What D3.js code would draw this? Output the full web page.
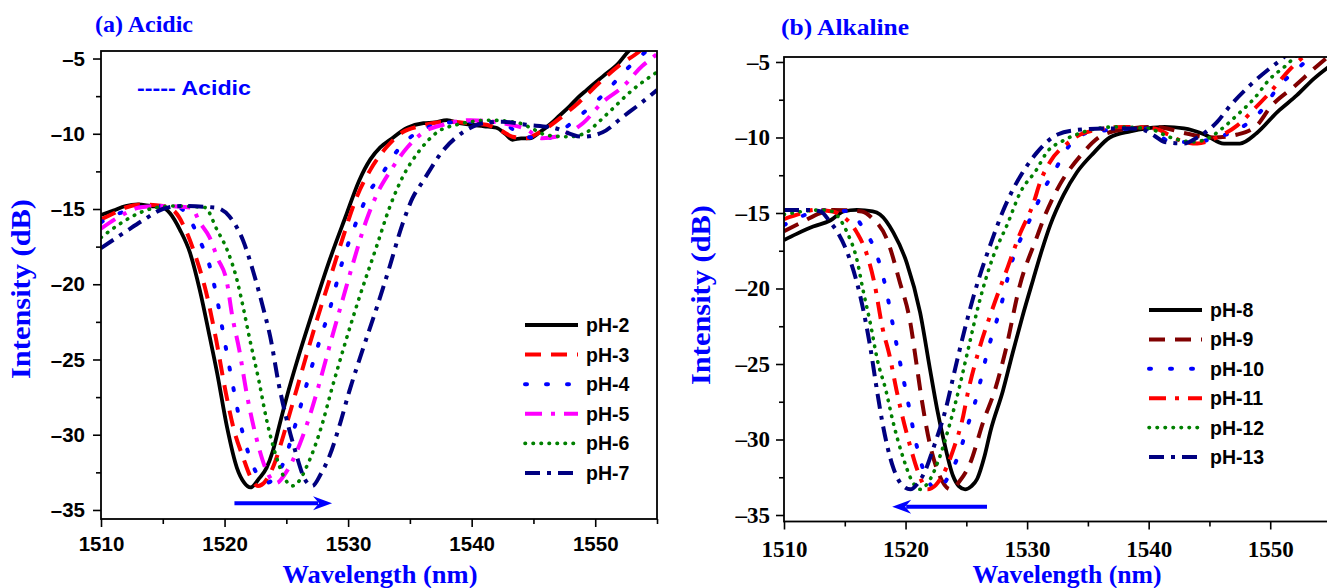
<!DOCTYPE html>
<html lang="en">
<head>
<meta charset="utf-8">
<title>pH response - acidic / alkaline</title>
<script src="https://d3js.org/d3.v7.min.js"></script>
<style>
  body { margin: 0; background: #fff; }
  .tick line { stroke: #000; stroke-width: 1.6px; }
</style>
</head>
<body>
<svg id="chart" width="1327" height="588"></svg>
<script>
// ---------- data (wavelength nm, intensity dB) ----------
const wlDomain = [1510, 1555];
const wlTicks = [1510, 1520, 1530, 1540, 1550];
const wlMinor = [1515, 1525, 1535, 1545, 1555];
const intTicks = [-35, -30, -25, -20, -15, -10, -5];
const intMinor = [-32.5, -27.5, -22.5, -17.5, -12.5, -7.5];

// (a) acidic
const pH2 = [[1510,-15.4],[1511,-15.1],[1512,-14.8],[1513,-14.7],[1514,-14.8],[1515,-14.9],[1515.6,-15.3],[1516.4,-16.4],[1517.2,-17.9],[1518,-20.4],[1518.8,-23.5],[1519.4,-25.9],[1520.2,-29.5],[1521,-32.2],[1521.6,-33.2],[1522.1,-33.5],[1522.8,-32.9],[1523.4,-32.2],[1523.9,-31.1],[1524.4,-29.5],[1525.2,-27.0],[1525.8,-25.3],[1527.1,-21.9],[1528.5,-18.4],[1529.8,-15.5],[1530.9,-13.1],[1531.8,-11.7],[1532.6,-10.9],[1533.4,-10.4],[1534.8,-9.6],[1536.1,-9.3],[1537,-9.25],[1538,-9.1],[1539,-9.3],[1539.9,-9.4],[1541,-9.5],[1542,-9.6],[1542.7,-10.0],[1543.3,-10.4],[1544,-10.3],[1544.7,-10.3],[1545.5,-9.9],[1546.3,-9.4],[1547.1,-8.8],[1547.9,-8.2],[1548.6,-7.6],[1549.3,-7.1],[1550.6,-6.2],[1551.9,-5.3],[1552.6,-4.6],[1553.5,-3.9]];
const pH3 = [[1510,-15.7],[1511,-15.3],[1512,-14.9],[1513.4,-14.7],[1515,-14.8],[1516,-15.2],[1516.8,-16.3],[1517.6,-18.0],[1518.5,-20.5],[1519.3,-23.6],[1520.1,-27.2],[1520.8,-29.8],[1521.5,-31.5],[1522.1,-32.8],[1522.7,-33.4],[1523.3,-33.1],[1524,-32.0],[1524.6,-30.5],[1525.2,-28.8],[1525.9,-26.8],[1526.6,-24.8],[1527.5,-22.3],[1528.5,-19.7],[1529.5,-17.1],[1530.6,-14.4],[1531.8,-12.4],[1533.1,-10.9],[1534.4,-9.9],[1535.8,-9.5],[1538,-9.2],[1539.8,-9.3],[1541.2,-9.4],[1542.4,-9.8],[1543.3,-10.2],[1544.4,-10.3],[1545.3,-10.0],[1546.1,-9.6],[1547.4,-8.8],[1548.7,-7.9],[1550.6,-6.4],[1552.2,-5.3],[1553.3,-4.7],[1554.3,-4.0]];
const pH4 = [[1510,-15.9],[1510.5,-15.6],[1511.8,-15.2],[1513,-14.9],[1514.5,-14.8],[1516.3,-14.9],[1517.2,-15.7],[1518,-17.1],[1518.8,-18.8],[1519.4,-21.0],[1519.9,-23.3],[1520.6,-26.4],[1521.3,-29.3],[1522,-31.4],[1522.7,-32.7],[1523.4,-33.2],[1524.1,-32.8],[1524.8,-31.8],[1525.6,-29.7],[1526.7,-26.5],[1527.6,-24.0],[1528.5,-21.7],[1529.5,-18.6],[1530.6,-16.0],[1531.7,-13.9],[1532.8,-12.6],[1534,-11.1],[1535.6,-9.9],[1537.2,-9.4],[1539.3,-9.2],[1541,-9.2],[1542.5,-9.3],[1543.5,-9.8],[1544.4,-10.2],[1546.1,-10.3],[1547.1,-9.9],[1547.9,-9.4],[1549.6,-8.2],[1550.9,-7.2],[1552.2,-6.0],[1553.6,-4.9],[1554.4,-4.3]];
const pH5 = [[1510,-16.3],[1511.5,-15.5],[1513.1,-14.9],[1514.5,-14.8],[1517.3,-14.9],[1518,-15.9],[1518.8,-16.9],[1519.4,-18.2],[1520.2,-19.9],[1520.6,-22.0],[1521.2,-24.4],[1521.8,-27.3],[1522.6,-30.3],[1523.4,-32.4],[1524.2,-33.2],[1524.9,-32.6],[1526.1,-30.6],[1527.1,-28.2],[1527.6,-26.8],[1528.6,-23.8],[1529.6,-20.9],[1530.4,-18.6],[1531.5,-15.7],[1532.4,-13.9],[1533.4,-12.5],[1534.8,-10.9],[1536.1,-9.9],[1537.7,-9.4],[1539.9,-9.1],[1542.5,-9.3],[1544.4,-9.7],[1545.7,-10.3],[1547.3,-10.1],[1549,-9.3],[1550.6,-7.9],[1552.2,-6.9],[1553.8,-5.5],[1554.7,-4.9],[1555,-4.7]];
const pH6 = [[1510,-16.9],[1511.5,-16.0],[1513,-15.3],[1514.5,-14.9],[1516,-14.8],[1518.4,-14.9],[1519.4,-16.4],[1520.2,-17.7],[1521,-19.7],[1521.5,-21.5],[1522,-23.5],[1522.8,-26.5],[1523.4,-29.0],[1524.2,-31.5],[1524.8,-32.8],[1525.5,-33.4],[1526.1,-33.0],[1526.6,-32.2],[1527.3,-30.8],[1527.9,-29.3],[1528.7,-26.9],[1529.8,-23.8],[1530.9,-20.9],[1532.3,-17.5],[1533.4,-14.8],[1534.4,-12.9],[1535.8,-11.1],[1537.2,-9.9],[1538.8,-9.4],[1541.5,-9.1],[1543.9,-9.3],[1545,-9.7],[1546.1,-10.1],[1547.9,-10.2],[1549.3,-9.9],[1550.3,-9.2],[1551.2,-8.5],[1553,-7.1],[1555,-5.9]];
const pH7 = [[1510,-17.6],[1512,-16.5],[1513.5,-15.7],[1515,-15.0],[1516.5,-14.8],[1519.2,-14.9],[1520.4,-15.5],[1521.5,-17.1],[1522.3,-19.1],[1523.1,-21.5],[1523.7,-23.5],[1524.4,-26.7],[1525,-28.9],[1525.8,-31.3],[1526.4,-32.8],[1527.1,-33.4],[1527.8,-32.6],[1528.5,-31.4],[1529.3,-29.4],[1530.1,-27.1],[1531.2,-24.3],[1532.3,-21.6],[1533.3,-19.0],[1534.4,-16.0],[1535.2,-14.3],[1536.1,-13.1],[1537.7,-11.1],[1539.3,-9.9],[1540.9,-9.3],[1542.5,-9.2],[1544.4,-9.4],[1546.6,-9.6],[1549,-10.2],[1550.6,-9.9],[1552.2,-8.9],[1553.8,-7.9],[1555,-7.1]];

// (b) alkaline
const pH8 = [[1510,-16.8],[1511,-16.4],[1512.4,-15.9],[1513.8,-15.5],[1514.9,-14.9],[1516,-14.8],[1517.3,-14.9],[1517.9,-15.1],[1519,-16.3],[1520.1,-18.3],[1521.2,-21.6],[1522,-25.3],[1522.6,-28.0],[1523.1,-29.9],[1523.9,-32.4],[1524.4,-33.1],[1524.9,-33.3],[1525.4,-33.1],[1525.9,-32.6],[1526.5,-31.1],[1527,-29.4],[1528,-26.8],[1528.8,-24.3],[1529.6,-21.9],[1530.5,-19.4],[1531.2,-17.5],[1531.9,-15.8],[1533,-13.8],[1534.1,-12.3],[1535.5,-11.0],[1536.8,-10.0],[1538.5,-9.6],[1539.9,-9.4],[1541.3,-9.3],[1542.9,-9.4],[1544.6,-9.8],[1546.2,-10.4],[1547.5,-10.4],[1548.9,-9.7],[1550.6,-8.3],[1552.2,-7.2],[1553.6,-6.1],[1555,-5.2]];
const pH9 = [[1510,-16.2],[1511.5,-15.6],[1513,-15.0],[1514,-14.8],[1516.4,-14.9],[1517.2,-15.3],[1518.5,-16.8],[1519.5,-19.5],[1520.4,-22.3],[1520.9,-25.0],[1521.3,-27.2],[1522,-30.3],[1522.8,-32.4],[1523.7,-33.3],[1524.5,-32.7],[1525.3,-31.6],[1526.4,-28.8],[1527.4,-26.6],[1528.2,-24.2],[1529.4,-19.8],[1530.8,-16.6],[1531.4,-15.3],[1532.5,-13.4],[1534.4,-11.2],[1536.3,-9.8],[1538.5,-9.4],[1540.1,-9.3],[1541.5,-9.4],[1542.9,-9.7],[1545.4,-10.0],[1547.3,-9.8],[1548.9,-9.2],[1550,-8.0],[1552,-6.6],[1554.1,-5.1],[1555,-4.5]];
const pH10 = [[1510,-15.8],[1511.5,-15.2],[1513,-14.8],[1515.4,-14.9],[1516.5,-16.0],[1517.6,-17.7],[1518.3,-19.7],[1519,-22.6],[1519.4,-24.3],[1519.8,-25.9],[1520.2,-27.5],[1520.8,-30.0],[1521.6,-32.3],[1522.6,-33.3],[1523.5,-32.5],[1524.5,-30.7],[1525.1,-29.1],[1525.7,-27.6],[1526.2,-26.0],[1526.7,-24.3],[1527.8,-21.3],[1528.8,-18.1],[1529.7,-16.3],[1530.5,-15.0],[1531.4,-13.4],[1532.2,-12.3],[1533.5,-10.5],[1534.9,-9.7],[1536.8,-9.5],[1539.9,-9.4],[1540.8,-9.8],[1541.8,-10.3],[1543.7,-10.3],[1545.6,-10.0],[1547.9,-9.2],[1549.5,-8.0],[1550.6,-6.7],[1552.2,-5.5],[1553.5,-4.5]];
const pH11 = [[1510,-15.4],[1511.5,-15.0],[1512.5,-14.8],[1514,-14.9],[1514.6,-15.1],[1516,-16.3],[1516.8,-17.7],[1517.4,-19.5],[1518.1,-22.6],[1518.7,-24.5],[1519.3,-26.9],[1520.4,-30.5],[1521.1,-32.3],[1521.8,-33.3],[1522.5,-33.0],[1523.1,-32.3],[1524,-30.5],[1524.7,-28.6],[1525.1,-27.0],[1526.1,-23.9],[1527,-21.7],[1528.4,-18.6],[1529.4,-16.4],[1530.5,-14.4],[1531.1,-12.9],[1531.9,-11.6],[1533.3,-10.4],[1534.7,-9.7],[1538,-9.3],[1540.5,-9.4],[1541.6,-9.8],[1542.6,-10.2],[1544,-10.4],[1545.6,-10.0],[1547.3,-9.2],[1548.7,-8.1],[1550,-7.0],[1551.6,-5.5],[1552.8,-4.6]];
const pH12 = [[1510,-15.1],[1511.5,-14.9],[1513,-14.8],[1514,-14.9],[1514.5,-15.3],[1515.2,-16.3],[1516,-18.1],[1516.5,-20.1],[1517.1,-22.3],[1517.7,-24.8],[1518.4,-26.8],[1518.9,-28.6],[1519.8,-31.2],[1520.5,-32.7],[1521.2,-33.3],[1521.9,-32.8],[1522.7,-31.4],[1523.7,-28.8],[1524.5,-26.3],[1525.1,-24.2],[1526.1,-20.8],[1527.2,-17.9],[1528.4,-15.7],[1529.4,-13.7],[1530.8,-12.1],[1531.6,-11.0],[1533,-10.2],[1534.4,-9.7],[1537.2,-9.3],[1539.9,-9.4],[1541.8,-10.0],[1543.7,-10.3],[1545,-10.0],[1546.2,-9.3],[1547.3,-8.5],[1548.7,-7.4],[1550,-6.1],[1551.2,-5.3],[1552,-4.7],[1552.8,-4.2]];
const pH13 = [[1510,-14.8],[1512,-14.8],[1513,-14.9],[1513.8,-15.6],[1514.5,-16.4],[1515.2,-17.6],[1516.3,-20.6],[1517.1,-23.9],[1517.6,-26.5],[1518.1,-28.9],[1519,-31.9],[1519.7,-33.0],[1520.4,-33.3],[1521,-32.9],[1521.6,-32.1],[1522.4,-30.3],[1523.2,-28.3],[1524.2,-24.9],[1524.9,-22.6],[1525.6,-20.5],[1527.2,-16.6],[1528,-14.9],[1528.8,-13.5],[1529.8,-12.1],[1530.8,-11.0],[1532.5,-9.8],[1534.1,-9.5],[1536.3,-9.4],[1538.5,-9.4],[1539.6,-9.5],[1540.5,-9.9],[1541.3,-10.3],[1542.9,-10.4],[1544,-10.0],[1544.6,-9.7],[1545.6,-9.0],[1546.7,-7.9],[1548.4,-6.5],[1550,-5.4],[1550.8,-4.9],[1551.8,-4.2]];

// arrows showing the dip shift: [from wavelength, to wavelength, intensity]
const acidArrow = [1520.8, 1528.7, -34.55];
const alkArrow = [1526.7, 1518.9, -34.45];

// ---------- styles ----------
const DASH = "16,10", DOT = "2,19", DASHDOTDOT = "17,9,4,9", SHORTDOT = "0.5,7.5", DASHDOT = "15,7,4,7";
const acidSeries = [
  {name: "pH-2", values: pH2, color: "#000000", dash: null, cap: "butt", w: 3.8},
  {name: "pH-3", values: pH3, color: "#ff0000", dash: DASH, cap: "butt", w: 4},
  {name: "pH-4", values: pH4, color: "#0000ff", dash: DOT, cap: "round", w: 4},
  {name: "pH-5", values: pH5, color: "#ff00ff", dash: DASHDOTDOT, cap: "butt", w: 4},
  {name: "pH-6", values: pH6, color: "#008000", dash: SHORTDOT, cap: "round", w: 3.6},
  {name: "pH-7", values: pH7, color: "#000080", dash: DASHDOT, cap: "butt", w: 4}
];
const alkSeries = [
  {name: "pH-8", values: pH8, color: "#000000", dash: null, cap: "butt", w: 3.8},
  {name: "pH-9", values: pH9, color: "#800000", dash: DASH, cap: "butt", w: 4},
  {name: "pH-10", values: pH10, color: "#0000ff", dash: DOT, cap: "round", w: 4},
  {name: "pH-11", values: pH11, color: "#ff0000", dash: DASHDOTDOT, cap: "butt", w: 4},
  {name: "pH-12", values: pH12, color: "#008000", dash: SHORTDOT, cap: "round", w: 3.6},
  {name: "pH-13", values: pH13, color: "#000080", dash: DASHDOT, cap: "butt", w: 4}
];

const SANS = "'Liberation Sans', Arial, sans-serif";
const SERIF = "'Liberation Serif', 'Times New Roman', serif";
const BLUE = "#0000ff";

const svg = d3.select("#chart");
const fmt = d => d < 0 ? "\u2013" + Math.abs(d) : String(d);

function drawPanel(cfg) {
  const x = d3.scaleLinear().domain(wlDomain).range([cfg.left, cfg.right]);
  const y = d3.scaleLinear().domain(cfg.yDomain).range([cfg.bottom, cfg.top]);
  const g = svg.append("g");

  svg.append("clipPath").attr("id", "clip-" + cfg.id)
    .append("rect")
    .attr("x", cfg.left).attr("y", cfg.top)
    .attr("width", cfg.right - cfg.left).attr("height", cfg.bottom - cfg.top);

  // curves
  const line = d3.line().x(d => x(d[0])).y(d => y(d[1])).curve(d3.curveMonotoneX);
  g.append("g").attr("clip-path", "url(#clip-" + cfg.id + ")")
    .selectAll("path").data(cfg.series).join("path")
    .attr("d", d => line(d.values))
    .attr("fill", "none")
    .attr("stroke", d => d.color)
    .attr("stroke-width", d => d.w)
    .attr("stroke-dasharray", d => d.dash)
    .attr("stroke-linecap", d => d.cap)
    .attr("stroke-linejoin", "round");

  // axes: major + minor ticks
  g.append("g").attr("transform", `translate(${cfg.left},0)`)
    .call(d3.axisLeft(y).tickValues(intTicks).tickSize(8).tickSizeOuter(0)
      .tickPadding(cfg.padY).tickFormat(fmt));
  g.append("g").attr("transform", `translate(${cfg.left},0)`)
    .call(d3.axisLeft(y).tickValues(intMinor).tickSize(5).tickSizeOuter(0).tickFormat(""));
  g.append("g").attr("transform", `translate(0,${cfg.bottom})`)
    .call(d3.axisBottom(x).tickValues(wlTicks).tickSize(8).tickSizeOuter(0)
      .tickPadding(cfg.padX).tickFormat(d3.format("d")));
  g.append("g").attr("transform", `translate(0,${cfg.bottom})`)
    .call(d3.axisBottom(x).tickValues(wlMinor).tickSize(5).tickSizeOuter(0).tickFormat(""));
  g.selectAll(".domain").remove();
  g.selectAll(".tick text")
    .attr("fill", "#000")
    .style("font-family", cfg.tickFont)
    .style("font-weight", "bold")
    .style("font-size", cfg.tickSize + "px");

  // frame
  g.append("rect")
    .attr("x", cfg.left).attr("y", cfg.top)
    .attr("width", cfg.right - cfg.left).attr("height", cfg.bottom - cfg.top)
    .attr("fill", "none").attr("stroke", "#000").attr("stroke-width", 1.8);

  // shift arrow
  const [a0, a1, ay] = cfg.arrow;
  const xa0 = x(a0), xa1 = x(a1), ya = y(ay);
  const dir = Math.sign(xa1 - xa0);
  g.append("line")
    .attr("x1", xa0).attr("y1", ya).attr("x2", xa1 - dir * 14).attr("y2", ya)
    .attr("stroke", BLUE).attr("stroke-width", 4);
  g.append("path")
    .attr("d", `M${xa1},${ya} L${xa1 - dir * 19},${ya - 7} L${xa1 - dir * 13},${ya} L${xa1 - dir * 19},${ya + 7} Z`)
    .attr("fill", BLUE);

  // legend
  const lg = g.append("g").selectAll("g").data(cfg.series).join("g")
    .attr("transform", (d, i) => `translate(${cfg.legX},${cfg.legY + i * cfg.legStep})`);
  lg.append("line")
    .attr("x1", 0).attr("x2", 53).attr("y1", 0).attr("y2", 0)
    .attr("stroke", d => d.color)
    .attr("stroke-width", d => d.w)
    .attr("stroke-dasharray", d => d.dash)
    .attr("stroke-linecap", d => d.cap);
  lg.append("text")
    .attr("x", 61).attr("y", 7)
    .style("font-family", SANS).style("font-weight", "bold").style("font-size", "19.5px")
    .text(d => d.name);

  // panel title and axis titles
  g.append("text")
    .attr("x", cfg.titleX).attr("y", cfg.titleY)
    .attr("textLength", cfg.titleLen).attr("lengthAdjust", "spacingAndGlyphs")
    .style("font-family", SERIF).style("font-weight", "bold").style("font-size", "23px")
    .attr("fill", BLUE).text(cfg.title);
  g.append("text")
    .attr("transform", `translate(${cfg.yLabX},${cfg.yLabY}) rotate(-90)`)
    .attr("text-anchor", "middle")
    .attr("textLength", 180).attr("lengthAdjust", "spacingAndGlyphs")
    .style("font-family", SERIF).style("font-weight", "bold").style("font-size", "27px")
    .attr("fill", BLUE).text("Intensity (dB)");
  g.append("text")
    .attr("x", cfg.xLabX).attr("y", 583)
    .attr("text-anchor", "middle")
    .attr("textLength", cfg.xLabLen).attr("lengthAdjust", "spacingAndGlyphs")
    .style("font-family", SERIF).style("font-weight", "bold").style("font-size", "25px")
    .attr("fill", BLUE).text("Wavelength (nm)");
  return {x, y, g};
}

const left = drawPanel({
  id: "a", left: 101, right: 657, top: 51, bottom: 519, yDomain: [-35.6, -4.5],
  series: acidSeries, tickFont: SANS, tickSize: 20.5, padY: 8, padX: 9,
  arrow: acidArrow, legX: 525, legY: 325, legStep: 29.6,
  title: "(a) Acidic", titleX: 95, titleY: 32, titleLen: 98,
  yLabX: 30, yLabY: 289, xLabX: 380, xLabLen: 195
});
drawPanel({
  id: "b", left: 784, right: 1331, top: 57, bottom: 521.5, yDomain: [-35.43, -4.67],
  series: alkSeries, tickFont: SERIF, tickSize: 23, padY: 6, padX: 11,
  arrow: alkArrow, legX: 1149, legY: 310, legStep: 29.4,
  title: "(b) Alkaline", titleX: 781, titleY: 35, titleLen: 128,
  yLabX: 710, yLabY: 295, xLabX: 1067, xLabLen: 189
});

// in-plot note on the acidic panel
left.g.append("text")
  .attr("x", 137).attr("y", 95)
  .attr("textLength", 114).attr("lengthAdjust", "spacingAndGlyphs")
  .style("font-family", SANS).style("font-weight", "bold").style("font-size", "20px")
  .attr("fill", BLUE).text("----- Acidic");
</script>
</body>
</html>
